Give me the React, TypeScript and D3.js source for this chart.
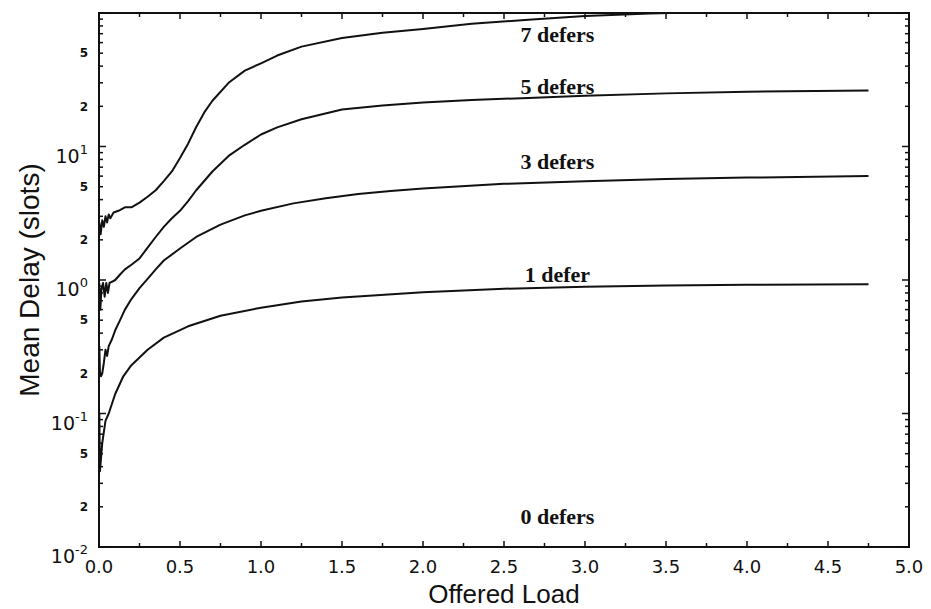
import React, { useEffect, useRef } from 'react';
import * as d3 from 'd3';

// offered load / mean delay readings, one pair of arrays per curve
const load1 = [0.002, 0.006, 0.02, 0.04, 0.06, 0.1, 0.15, 0.2, 0.3, 0.4, 0.55, 0.75, 1.0, 1.25, 1.5, 2.0, 2.5, 3.0, 3.5, 4.0, 4.75];
const delay1 = [0.1, 0.037, 0.06, 0.088, 0.1, 0.14, 0.19, 0.23, 0.3, 0.37, 0.45, 0.54, 0.62, 0.69, 0.74, 0.81, 0.86, 0.89, 0.91, 0.92, 0.93];

const load3 = [0.002, 0.006, 0.012, 0.02, 0.03, 0.04, 0.05, 0.06, 0.08, 0.1, 0.13, 0.16, 0.2, 0.25, 0.3, 0.35, 0.4, 0.5, 0.6, 0.75, 0.9, 1.0, 1.2, 1.4, 1.6, 1.8, 2.0, 2.5, 3.0, 3.5, 4.0, 4.75];
const delay3 = [0.32, 0.2, 0.19, 0.2, 0.24, 0.3, 0.27, 0.32, 0.36, 0.42, 0.5, 0.6, 0.72, 0.87, 1.02, 1.2, 1.4, 1.72, 2.1, 2.6, 3.05, 3.3, 3.75, 4.1, 4.4, 4.65, 4.85, 5.25, 5.5, 5.7, 5.85, 6.0];

const load5 = [0.002, 0.008, 0.015, 0.025, 0.035, 0.045, 0.055, 0.065, 0.08, 0.1, 0.13, 0.16, 0.2, 0.25, 0.3, 0.35, 0.4, 0.45, 0.5, 0.55, 0.6, 0.7, 0.8, 0.9, 1.0, 1.1, 1.25, 1.5, 1.75, 2.0, 2.3, 2.65, 3.0, 3.5, 4.0, 4.75];
const delay5 = [0.95, 0.6, 0.85, 0.95, 0.75, 0.95, 0.8, 0.95, 0.97, 1.0, 1.1, 1.2, 1.3, 1.45, 1.75, 2.1, 2.5, 2.9, 3.3, 3.9, 4.7, 6.5, 8.5, 10.3, 12.3, 13.9, 16.0, 18.9, 20.3, 21.4, 22.3, 23.1, 24.0, 25.0, 25.7, 26.3];

const load7 = [0.002, 0.01, 0.02, 0.03, 0.04, 0.05, 0.06, 0.07, 0.09, 0.12, 0.16, 0.2, 0.25, 0.3, 0.35, 0.4, 0.45, 0.5, 0.55, 0.6, 0.65, 0.7, 0.8, 0.9, 1.0, 1.1, 1.25, 1.5, 1.75, 2.0, 2.3, 2.65, 3.0, 3.4, 3.8, 4.3, 4.75];
const delay7 = [2.7, 2.2, 2.8, 2.5, 3.0, 2.7, 3.1, 2.9, 3.2, 3.3, 3.5, 3.5, 3.8, 4.2, 4.7, 5.5, 6.5, 8.2, 10.5, 14, 18, 22, 30, 37, 42, 48, 56, 65, 71, 76, 83, 89, 95, 99, 102, 105, 108];

// curve labels (0 defers has no visible curve: zero delay)
const labelNames = ['7 defers', '5 defers', '3 defers', '1 defer', '0 defers'];
const labelDelay = [60.7, 24.7, 6.78, 0.966, 0.0149];
const labelLoad = 2.83;

const xTickValues = [0, 0.5, 1, 1.5, 2, 2.5, 3, 3.5, 4, 4.5, 5];

const App = () => {
  const svgRef = useRef(null);

  useEffect(() => {
    const svg = d3.select(svgRef.current);
    svg.selectAll('*').remove();

    const width = 931;
    const height = 609;
    const left = 99, right = 909, top = 13, bottom = 547;

    const x = d3.scaleLinear().domain([0, 5]).range([left, right]);
    const y = d3.scaleLog().domain([0.01, 100]).range([bottom, top]);
    const ink = '#111';

    svg.attr('width', width).attr('height', height);
    svg.append('rect').attr('width', width).attr('height', height).attr('fill', '#fff');

    svg.append('defs').append('clipPath').attr('id', 'plot-clip')
      .append('rect')
      .attr('x', left).attr('y', top)
      .attr('width', right - left).attr('height', bottom - top);

    // curves
    const line = d3.line().x(d => x(d[0])).y(d => y(d[1]));
    const series = [
      [load1, delay1],
      [load3, delay3],
      [load5, delay5],
      [load7, delay7],
    ];
    const plot = svg.append('g').attr('clip-path', 'url(#plot-clip)');
    series.forEach(([lx, ly]) => {
      plot.append('path')
        .attr('d', line(lx.map((v, i) => [v, ly[i]])))
        .attr('fill', 'none')
        .attr('stroke', ink)
        .attr('stroke-width', 2)
        .attr('stroke-linejoin', 'round');
    });

    // frame
    svg.append('rect')
      .attr('x', left).attr('y', top)
      .attr('width', right - left).attr('height', bottom - top)
      .attr('fill', 'none')
      .attr('stroke', ink)
      .attr('stroke-width', 2);

    // x ticks, inward on bottom and top
    const xMinor = d3.range(0, 5.001, 0.25);
    xMinor.forEach(v => {
      const len = Math.abs(v * 2 - Math.round(v * 2)) < 1e-6 ? 6 : 4;
      svg.append('line').attr('x1', x(v)).attr('x2', x(v))
        .attr('y1', bottom).attr('y2', bottom - len)
        .attr('stroke', ink).attr('stroke-width', 1.5);
      svg.append('line').attr('x1', x(v)).attr('x2', x(v))
        .attr('y1', top).attr('y2', top + len)
        .attr('stroke', ink).attr('stroke-width', 1.5);
    });

    svg.selectAll('.xlabel')
      .data(xTickValues)
      .enter().append('text')
      .attr('class', 'xlabel')
      .attr('x', d => x(d))
      .attr('y', 573)
      .attr('text-anchor', 'middle')
      .style('font-family', 'DejaVu Sans, sans-serif')
      .style('font-size', '18px')
      .attr('fill', ink)
      .text(d => d.toFixed(1));

    // y ticks (log), inward on left and right; the top decade is not labelled
    const yTicks = y.ticks();
    yTicks.forEach(v => {
      const mant = Math.round(v / Math.pow(10, Math.floor(Math.log10(v) + 1e-9)));
      const len = mant === 1 ? 7 : 4;
      svg.append('line').attr('x1', left).attr('x2', left + len)
        .attr('y1', y(v)).attr('y2', y(v))
        .attr('stroke', ink).attr('stroke-width', 1.5);
      svg.append('line').attr('x1', right).attr('x2', right - len)
        .attr('y1', y(v)).attr('y2', y(v))
        .attr('stroke', ink).attr('stroke-width', 1.5);

      if (v >= 100) return;
      if (mant === 1) {
        const exp = Math.round(Math.log10(v));
        const t = svg.append('text')
          .attr('x', 88)
          .attr('y', y(v) + 16)
          .attr('text-anchor', 'end')
          .style('font-family', 'DejaVu Sans, sans-serif')
          .style('font-size', '19px')
          .attr('fill', ink);
        t.append('tspan').text('10');
        t.append('tspan')
          .attr('dy', -9)
          .style('font-size', '13px')
          .text(String(exp));
      } else if (mant === 2 || mant === 5) {
        svg.append('text')
          .attr('x', 84)
          .attr('y', y(v))
          .attr('dy', '0.35em')
          .attr('text-anchor', 'middle')
          .style('font-family', 'DejaVu Sans, sans-serif')
          .style('font-size', '12px')
          .style('font-weight', 'bold')
          .attr('fill', ink)
          .text(mant);
      }
    });

    // curve labels
    labelNames.forEach((name, i) => {
      svg.append('text')
        .attr('x', x(labelLoad))
        .attr('y', y(labelDelay[i]))
        .attr('text-anchor', 'middle')
        .style('font-family', 'Liberation Serif, serif')
        .style('font-size', '22px')
        .style('font-weight', 'bold')
        .attr('fill', ink)
        .text(name);
    });

    // axis titles
    svg.append('text')
      .attr('x', (left + right) / 2)
      .attr('y', 603)
      .attr('text-anchor', 'middle')
      .style('font-family', 'Liberation Sans, sans-serif')
      .style('font-size', '26px')
      .attr('fill', ink)
      .text('Offered Load');

    svg.append('text')
      .attr('transform', `translate(39, ${(top + bottom) / 2}) rotate(-90)`)
      .attr('text-anchor', 'middle')
      .style('font-family', 'Liberation Sans, sans-serif')
      .style('font-size', '28px')
      .attr('fill', ink)
      .text('Mean Delay (slots)');
  }, []);

  return (
    <svg ref={svgRef} style={{ position: 'absolute', left: 0, top: 0, display: 'block' }} />
  );
};

export default App;
